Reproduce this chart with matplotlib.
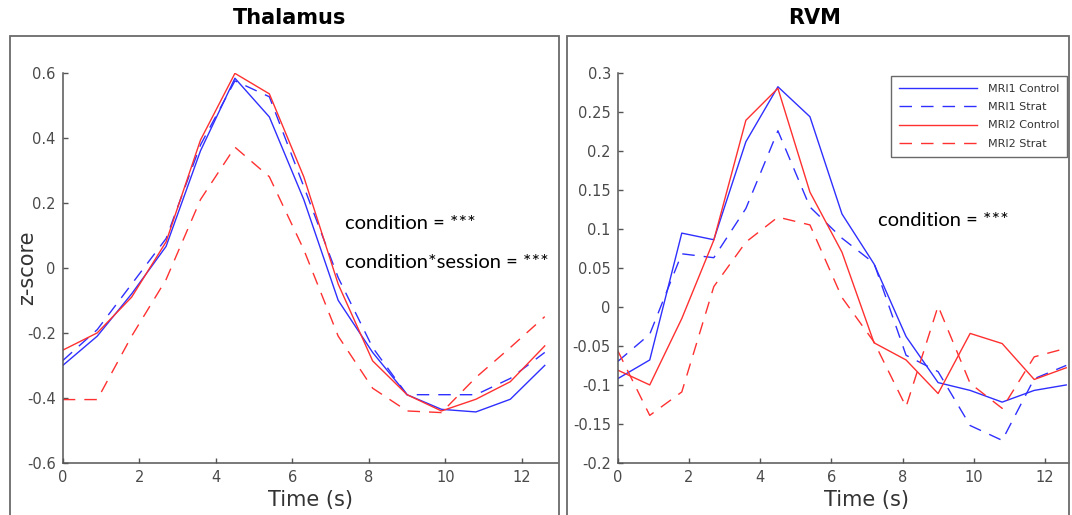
import numpy as np
import matplotlib
matplotlib.use('Agg')
import matplotlib.pyplot as plt
from matplotlib.patches import Rectangle

# time axis (TR = 0.9 s)
t = [0, 0.9, 1.8, 2.7, 3.6, 4.5, 5.4, 6.3, 7.2, 8.1, 9.0, 9.9, 10.8, 11.7, 12.6]

# Thalamus
thal_mri1_control = [-0.30, -0.21, -0.08, 0.066, 0.36, 0.583, 0.464, 0.21, -0.10, -0.26, -0.39, -0.435, -0.443, -0.404, -0.30]
thal_mri1_strat = [-0.285, -0.19, -0.05, 0.09, 0.378, 0.575, 0.526, 0.25, -0.03, -0.245, -0.39, -0.39, -0.39, -0.34, -0.26]
thal_mri2_control = [-0.253, -0.20, -0.09, 0.08, 0.393, 0.598, 0.535, 0.28, -0.05, -0.286, -0.39, -0.44, -0.404, -0.35, -0.24]
thal_mri2_strat = [-0.405, -0.405, -0.21, -0.036, 0.21, 0.371, 0.28, 0.056, -0.21, -0.37, -0.44, -0.445, -0.337, -0.245, -0.15]

# RVM
rvm_mri1_control = [-0.092, -0.068, 0.0945, 0.086, 0.2115, 0.282, 0.2436, 0.119, 0.055, -0.038, -0.097, -0.107, -0.122, -0.107, -0.10]
rvm_mri1_strat = [-0.07, -0.035, 0.068, 0.063, 0.126, 0.2256, 0.128, 0.088, 0.056, -0.062, -0.083, -0.152, -0.171, -0.092, -0.075]
rvm_mri2_control = [-0.081, -0.10, -0.015, 0.0855, 0.239, 0.28, 0.147, 0.07, -0.046, -0.068, -0.111, -0.034, -0.047, -0.093, -0.078]
rvm_mri2_strat = [-0.056, -0.139, -0.109, 0.026, 0.083, 0.115, 0.105, 0.012, -0.045, -0.128, 0.001, -0.098, -0.13, -0.064, -0.053]

labels = ['MRI1 Control', 'MRI1 Strat', 'MRI2 Control', 'MRI2 Strat']
blue = '#2f2fff'
red = '#ff3030'
dash = (0, (9, 6.5))
gray = '#555555'

W, H = 1072, 515
fig = plt.figure(figsize=(W / 100, H / 100), dpi=100)

def fx(px):
    return px / W

def fy(py):
    return 1 - py / H

# grey frames around each panel
for x0, x1 in [(10, 559), (567, 1069)]:
    fig.patches.append(Rectangle((fx(x0), fy(520)), fx(x1 - x0), (520 - 36) / H,
                                 transform=fig.transFigure, fill=False,
                                 edgecolor='#6a6a6a', lw=1.3))

ax1 = fig.add_axes([fx(62.8), fy(463), fx(558 - 62.8), (463 - 72.7) / H])
ax2 = fig.add_axes([fx(617.7), fy(463), fx(1069 - 617.7), (463 - 72.7) / H])

for ax, data in [(ax1, [thal_mri1_control, thal_mri1_strat, thal_mri2_control, thal_mri2_strat]),
                 (ax2, [rvm_mri1_control, rvm_mri1_strat, rvm_mri2_control, rvm_mri2_strat])]:
    ax.plot(t, data[0], color=blue, lw=1.0, label=labels[0])
    ax.plot(t, data[1], color=blue, lw=1.0, linestyle=dash, label=labels[1])
    ax.plot(t, data[2], color=red, lw=1.0, label=labels[2])
    ax.plot(t, data[3], color=red, lw=1.0, linestyle=dash, label=labels[3])
    ax.spines['top'].set_visible(False)
    ax.spines['right'].set_visible(False)
    for s in ['left', 'bottom']:
        ax.spines[s].set_color(gray)
        ax.spines[s].set_linewidth(1.1)
    ax.tick_params(direction='in', length=3.5, width=1.0, color=gray,
                   labelcolor='#4a4a4a', labelsize=10.5, pad=5)
    ax.set_xticks([0, 2, 4, 6, 8, 10, 12])
    ax.set_xticklabels(['0', '2', '4', '6', '8', '10', '12'])
    ax.set_facecolor('none')

ax1.set_xlim(0, (558 - 62.8) / 38.25)
ax1.set_ylim(-0.6, 0.6)
ax1.set_yticks([-0.6, -0.4, -0.2, 0, 0.2, 0.4, 0.6])
ax1.set_yticklabels(['-0.6', '-0.4', '-0.2', '0', '0.2', '0.4', '0.6'])

ax2.set_xlim(0, (1069 - 617.7) / 35.6)
ax2.set_ylim(-0.2, 0.3)
ax2.set_yticks([-0.2, -0.15, -0.1, -0.05, 0, 0.05, 0.1, 0.15, 0.2, 0.25, 0.3])
ax2.set_yticklabels(['-0.2', '-0.15', '-0.1', '-0.05', '0', '0.05', '0.1', '0.15', '0.2', '0.25', '0.3'])

# titles and axis labels
fig.text(fx(290), fy(18), 'Thalamus', ha='center', va='center', fontsize=15, fontweight='bold')
fig.text(fx(815), fy(18), 'RVM', ha='center', va='center', fontsize=15, fontweight='bold')
fig.text(fx(311), fy(500), 'Time (s)', ha='center', va='center', fontsize=15, color='#333333')
fig.text(fx(866), fy(500), 'Time (s)', ha='center', va='center', fontsize=15, color='#333333')
fig.text(fx(27), fy(268), 'z-score', ha='center', va='center', rotation=90, fontsize=15, color='#333333')

# statistics
fig.text(fx(345), fy(223), 'condition = ***', ha='left', va='center', fontsize=14.5, family='Lato')
fig.text(fx(345), fy(262), 'condition*session = ***', ha='left', va='center', fontsize=14.5, family='Lato')
fig.text(fx(878), fy(220), 'condition = ***', ha='left', va='center', fontsize=14.5, family='Lato')

leg = ax2.legend(loc='upper right', bbox_to_anchor=(fx(1067), fy(76)), bbox_transform=fig.transFigure,
                 fontsize=8, frameon=True, fancybox=False, handlelength=7.0, handletextpad=1.0,
                 labelspacing=0.75, borderpad=0.7, borderaxespad=0)
leg.get_frame().set_edgecolor('#444444')
leg.get_frame().set_linewidth(1.0)
for txt in leg.get_texts():
    txt.set_color('#333333')

fig.savefig('out.png', dpi=100)
